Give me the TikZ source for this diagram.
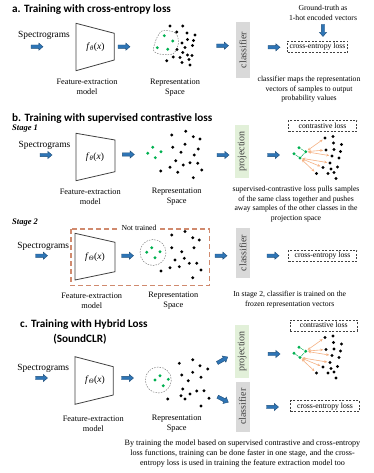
\documentclass[tikz,border=0pt]{standalone}
\usepackage{fontspec}
\setmainfont{Liberation Serif}
\newfontfamily\titlefont{Carlito}
\usetikzlibrary{arrows.meta}
\definecolor{arrowblue}{HTML}{2E75B6}
\definecolor{arrowedge}{HTML}{1F4E79}
\definecolor{clsgray}{HTML}{D9D9D9}
\definecolor{projgreen}{HTML}{E2F0D9}
\definecolor{dotgreen}{HTML}{00B050}
\definecolor{salmon}{HTML}{F4B183}
\definecolor{ntbrown}{HTML}{D08A6E}
\definecolor{boxtext}{HTML}{404040}
\tikzset{
  desc/.style={font=\fontsize{7.7}{9.8}\selectfont, align=center, inner sep=0pt},
  captxt/.style={font=\fontsize{8.3}{10}\selectfont, align=center, inner sep=0pt},
  spec/.style={font=\fontsize{9.4}{11}\selectfont, inner sep=0pt},
  flabel/.style={font=\fontsize{9.5}{11}\selectfont, inner sep=0pt},
  ttl/.style={font=\titlefont\bfseries\fontsize{11.2}{13}\selectfont, anchor=west, inner sep=0pt},
  stagelbl/.style={font=\bfseries\itshape\fontsize{8.5}{10}\selectfont, anchor=west, inner sep=0pt},
  trap/.style={draw=boxtext, line width=0.8pt},
  barrowpath/.style={draw=arrowedge, fill=arrowblue, line width=0.4pt},
  clsbox/.style={fill=clsgray, rotate=90, minimum height=14pt, inner sep=0pt, text=boxtext, font=\fontsize{10}{12}\selectfont},
  projbox/.style={fill=projgreen, rotate=90, minimum height=14pt, inner sep=0pt, text=boxtext, font=\fontsize{10}{12}\selectfont},
  lossbox/.style={draw=boxtext, dashed, line width=0.5pt, dash pattern=on 2pt off 1.5pt, font=\fontsize{7.7}{9}\selectfont, minimum height=11pt, inner sep=0pt},
  bdot/.style={circle, fill=black, inner sep=0pt, minimum size=3.2pt},
  gdot/.style={circle, fill=dotgreen, inner sep=0pt, minimum size=3.2pt},
  gline/.style={draw=dotgreen, line width=0.4pt},
  oarr/.style={draw=salmon, line width=0.6pt, {Stealth[length=3pt,width=2.6pt]}-{Stealth[length=3pt,width=2.6pt]}, shorten <=0.5pt, shorten >=1pt},
  grpline/.style={draw=gray, dashed, line width=0.5pt, dash pattern=on 1.5pt off 1.2pt},
  ntbox/.style={draw=ntbrown, line width=1.2pt, dash pattern=on 5pt off 3pt},
}
\newcommand\barr[2]{%
  \begin{scope}[shift={#1}, rotate=#2]
  \draw[barrowpath] (-6,-1.7) -- (1.8,-1.7) -- (1.8,-3.6) -- (6,0) -- (1.8,3.6) -- (1.8,1.7) -- (-6,1.7) -- cycle;
  \end{scope}}
\newcommand\projcluster[1]{%
  \foreach \px/\py [count=\i] in {299/147.7, 294/153.7, 305.7/151.7, 300/158}
    {\node[gdot] (#1g\i) at (\px,\py) {};}
  \draw[gline] (#1g1) -- (#1g3) -- (#1g4) -- (#1g2) -- cycle;
  \foreach \px/\py [count=\i] in {325/138, 333/136.5, 333.5/143, 341.5/144.5, 326/150, 334/149.5, 340.5/151.5, 332/156, 339/158, 330/163, 323/167.5, 331/169, 337.5/167, 316.5/173.5, 328/173.5, 334/172.5, 336/178.5}
    {\node[bdot] (#1b\i) at (\px,\py) {};}
  \draw[oarr] (#1g3) -- (#1b1);
  \draw[oarr] (#1g3) -- (#1b5);
  \draw[oarr] (#1g3) -- (#1b8);
  \draw[oarr] (#1g4) -- (#1b10);
  \draw[oarr] (#1g4) -- (#1b11);
  \draw[oarr] (#1g4) -- (#1b14);
}
\begin{document}
\begin{tikzpicture}[x=1pt,y=-1pt]
\useasboundingbox (0,0) rectangle (374,473);

% ================= a =================
\node[ttl] (ta) at (12,10) {a. Training with cross-entropy loss};
\node[spec] (spa) at (44,35) {Spectrograms};
\barr{(37,46.7)}{0}
\draw[trap] (76,23.3) -- (114.3,33.3) -- (114.3,60) -- (76,70.7) -- cycle;
\node[flabel] (fa) at (95.5,46.7) {\textit{f}\textsubscript{\textit{θ}}(\textit{x})};
\barr{(124,46.7)}{0}
\node[captxt] (fea) at (87,86.7) {Feature-extraction\\model};
\draw[grpline] plot[smooth cycle] coordinates {(163,30.5) (175.5,33) (178.5,43) (173.5,53.5) (162,54.5) (153.5,50.5) (157,37.5)};
\foreach \px/\py [count=\i] in {164.3/35.7, 172.7/41, 157.3/47.7, 167.7/49.3}
  {\node[gdot] (ag\i) at (\px,\py) {};}
\foreach \px/\py [count=\i] in {170/26, 182.7/26, 176.7/32, 187/33, 195/35, 187.5/39.5, 193.5/40.5, 182/43, 192.5/45.5, 185/47.5, 177/49.5, 182.7/52.5, 187.5/55, 192/55.5, 180/57.5, 173.3/57, 189/59.5, 166.7/60.7, 182/62.5, 190/65}
  {\node[bdot] (ab\i) at (\px,\py) {};}
\node[captxt] (repa) at (175,87.2) {Representation\\Space};
\barr{(222.5,45.7)}{0}
\node[clsbox, minimum width=56.6pt] (clsa) at (243,50) {classifier};
\barr{(274,47.3)}{0}
\node[lossbox, minimum width=60pt] (cea) at (317.5,47) {cross-entropy loss};
\node[desc] (gt) at (323,12.8) {Ground-truth as\\1-hot encoded vectors};
\barr{(323,30.5)}{-90}
\node[desc] (da) at (309,89.2) {classifier maps the representation\\vectors of samples to output\\probability values};

% ================= b =================
\node[ttl] (tb) at (12,118.3) {b. Training with supervised contrastive loss};
\node[stagelbl] (s1) at (12,128.5) {Stage 1};
\node[lossbox, minimum width=68pt] (clb) at (322.5,126) {contrastive loss};
\node[spec] (spb) at (44.5,145) {Spectrograms};
\barr{(46,155)}{0}
\draw[trap] (76,133.3) -- (115,140) -- (115,171.7) -- (76,180.7) -- cycle;
\node[flabel] (fb) at (95,156.7) {\textit{f}\textsubscript{\textit{θ}}(\textit{x})};
\barr{(128.3,154.5)}{0}
\node[captxt] (feb) at (90.3,196.7) {Feature-extraction\\model};
\foreach \px/\py [count=\i] in {152.7/147.3, 147.7/153.3, 161/151.7, 155.3/157.7}
  {\node[gdot] (bg\i) at (\px,\py) {};}
\foreach \px/\py [count=\i] in {171.7/135, 185.7/131.3, 193.3/136.7, 200/139, 172.7/147.3, 185/144.3, 198.3/149, 181/152.3, 194.3/155, 175.7/160.7, 183.3/165, 190/162.7, 197.7/163.3, 170/167.3, 160.7/171, 177.7/172.3, 201.7/170, 193.3/177.7}
  {\node[bdot] (bb\i) at (\px,\py) {};}
\node[captxt] (repb) at (176.7,197) {Representation\\Space};
\barr{(223,155)}{0}
\node[projbox, minimum width=53pt] (projb) at (242,151.5) {projection};
\barr{(273.5,155)}{0}
\projcluster{pb}
\node[desc] (db) at (296,204.2) {supervised-contrastive loss pulls samples\\of the same class together and pushes\\away samples of the other classes in the\\projection space};

% ================= stage 2 =================
\node[stagelbl] (s2) at (12,223) {Stage 2};
\draw[ntbox] (71,229) rectangle (209.3,285.7);
\node[desc, fill=white, inner xsep=2pt, font=\fontsize{7.7}{9}\selectfont] (nt) at (139,228.3) {Not trained};
\node[spec] (sps) at (43.3,246.7) {Spectrograms};
\barr{(41.5,255.7)}{0}
\draw[trap] (75,233.3) -- (115,242.3) -- (115,271.7) -- (75,280) -- cycle;
\node[flabel] (fs) at (95,256.7) {\textit{f}\textsubscript{\textit{Θ}}(\textit{x})};
\barr{(127.5,255.7)}{0}
\node[captxt] (fes) at (91.7,300.3) {Feature-extraction\\model};
\draw[grpline] (153,252.5) circle (13);
\foreach \px/\py [count=\i] in {151.7/247.7, 160/251.7, 146.7/252.3, 155/257.7}
  {\node[gdot] (sg\i) at (\px,\py) {};}
\foreach \px/\py [count=\i] in {171.7/235, 185/231.5, 192.7/237.7, 199.3/240, 171.7/247.7, 181.7/251.7, 194/247.7, 175/260, 184.3/258.3, 189.3/263.3, 196.7/263.3, 201/270, 161/271, 170/267.7, 179.3/266.7, 192.7/277.7}
  {\node[bdot] (sb\i) at (\px,\py) {};}
\node[captxt] (reps) at (173.3,300.5) {Representation\\Space};
\barr{(221,255.7)}{0}
\node[clsbox, minimum width=49.4pt] (clss) at (243,253) {classifier};
\barr{(273,255.7)}{0}
\node[lossbox, minimum width=68pt] (ces) at (322.5,255.5) {cross-entropy loss};
\node[desc] (ds) at (289.7,299.7) {In stage 2, classifier is trained on the\\frozen representation vectors};

% ================= c =================
\node[ttl] (tc) at (20,324.3) {c. Training with Hybrid Loss};
\node[font=\titlefont\bfseries\fontsize{11.2}{13}\selectfont, inner sep=0pt] (tc2) at (80,338.8) {(SoundCLR)};
\node[lossbox, minimum width=67pt] (clc) at (323.7,325.3) {contrastive loss};
\node[spec] (spc) at (43.3,368) {Spectrograms};
\barr{(41.5,378)}{0}
\draw[trap] (75,356.7) -- (113.3,366.7) -- (113.3,395) -- (75,404.3) -- cycle;
\node[flabel] (fc) at (95,380) {\textit{f}\textsubscript{\textit{Θ}}(\textit{x})};
\barr{(127.5,378)}{0}
\node[captxt] (fec) at (93.3,423.3) {Feature-extraction\\model};
\draw[grpline] (158.3,380) circle (13);
\foreach \px/\py [count=\i] in {160/375.7, 168.3/379.3, 155/380, 163.3/385.7}
  {\node[gdot] (cg\i) at (\px,\py) {};}
\foreach \px/\py [count=\i] in {179.3/363.3, 192.7/359.7, 200/365.7, 207.7/369, 181.7/375, 192.7/372.3, 201/377.3, 188.3/380.7, 182.7/389, 190/394, 196.7/391, 204/390.7, 181/395.7, 167.7/399, 185/399, 209/398.3, 201/406}
  {\node[bdot] (cb\i) at (\px,\py) {};}
\node[captxt] (repc) at (176.7,423.3) {Representation\\Space};
\barr{(222.5,360)}{30}
\barr{(223,399.5)}{-27}
\node[projbox, minimum width=53pt] (projc) at (242,351.5) {projection};
\node[clsbox, minimum width=50pt] (clsc) at (242.5,406.7) {classifier};
\barr{(274,354)}{0}
\begin{scope}[shift={(0,199.5)}]
\projcluster{pc}
\end{scope}
\barr{(272.5,407)}{0}
\node[lossbox, minimum width=68.6pt] (cec) at (325,406.2) {cross-entropy loss};
\node[desc, font=\fontsize{8.1}{10}\selectfont] (dc) at (242.5,453.5) {By training the model based on supervised contrastive and cross-entropy\\loss functions, training can be done faster in one stage, and the cross-\\entropy loss is used in training the feature extraction model too};
\end{tikzpicture}
\end{document}
